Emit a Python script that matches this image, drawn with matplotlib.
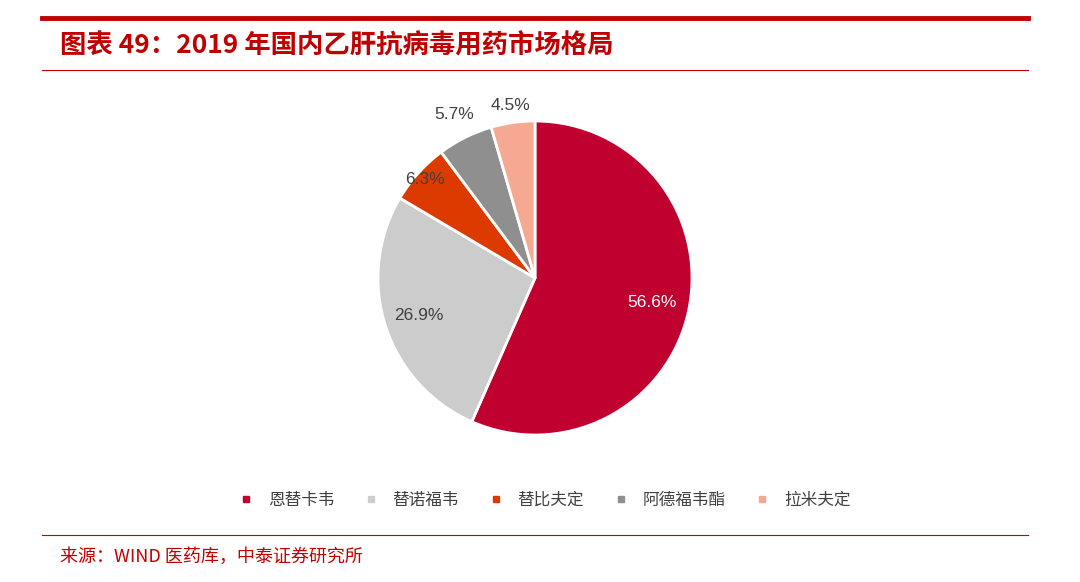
import matplotlib
matplotlib.use("Agg")
import matplotlib.pyplot as plt
import numpy as np
from matplotlib.lines import Line2D

plt.rcParams['font.family'] = ['Noto Sans CJK SC', 'DejaVu Sans']

categories = ['恩替卡韦', '替诺福韦', '替比夫定', '阿德福韦酯', '拉米夫定']
values = [56.6, 26.9, 6.3, 5.7, 4.5]
colors = ['#C0002F', '#CCCCCC', '#DD3A00', '#8F8F8F', '#F5A892']
label_r = [0.76, 0.78, 0.94, 1.16, 1.11]
label_c = ['white', '#404040', '#404040', '#404040', '#404040']

W, H = 1080, 582
fig = plt.figure(figsize=(W/100, H/100), dpi=100)
cx, cy, R = 535, 278, 157
ax = fig.add_axes([(cx-R)/W, 1-(cy+R)/H, 2*R/W, 2*R/H])
wedges, _ = ax.pie(values, colors=colors, startangle=90, counterclock=False,
                   wedgeprops=dict(edgecolor='white', linewidth=2), radius=1)
ax.set_xlim(-1, 1); ax.set_ylim(-1, 1); ax.set_aspect('auto')
for w, v, r, c in zip(wedges, values, label_r, label_c):
    a = np.deg2rad((w.theta1 + w.theta2)/2)
    ax.text(r*np.cos(a), r*np.sin(a), f'{v}%', ha='center', va='center',
            fontsize=12.5, color=c, family=['Liberation Sans', 'DejaVu Sans'])

# header / footer
fig.add_artist(Line2D([42/W, 1028/W], [1-18/H]*2, color='#C00000', lw=3.5))
fig.add_artist(Line2D([42/W, 1028/W], [1-70/H]*2, color='#C00000', lw=0.8))
fig.add_artist(Line2D([42/W, 1028/W], [1-535/H]*2, color='#C00000', lw=0.8))
fig.text(60/W, 1-46/H, '图表 49：2019 年国内乙肝抗病毒用药市场格局', color='#C00000',
         fontsize=19, fontweight='bold', style='italic', va='center')
fig.text(60/W, 1-557/H, '来源：WIND 医药库，中泰证券研究所', color='#C00000',
         fontsize=13, va='center')

handles = [Line2D([], [], marker='s', linestyle='', color=c, markersize=5) for c in colors]
fig.legend(handles, categories, loc='center', bbox_to_anchor=(540/W, 1-500/H), ncol=5,
           frameon=False, fontsize=12, handletextpad=0.3, columnspacing=1.2,
           labelcolor='#404040')
fig.savefig('out.png', dpi=100)
